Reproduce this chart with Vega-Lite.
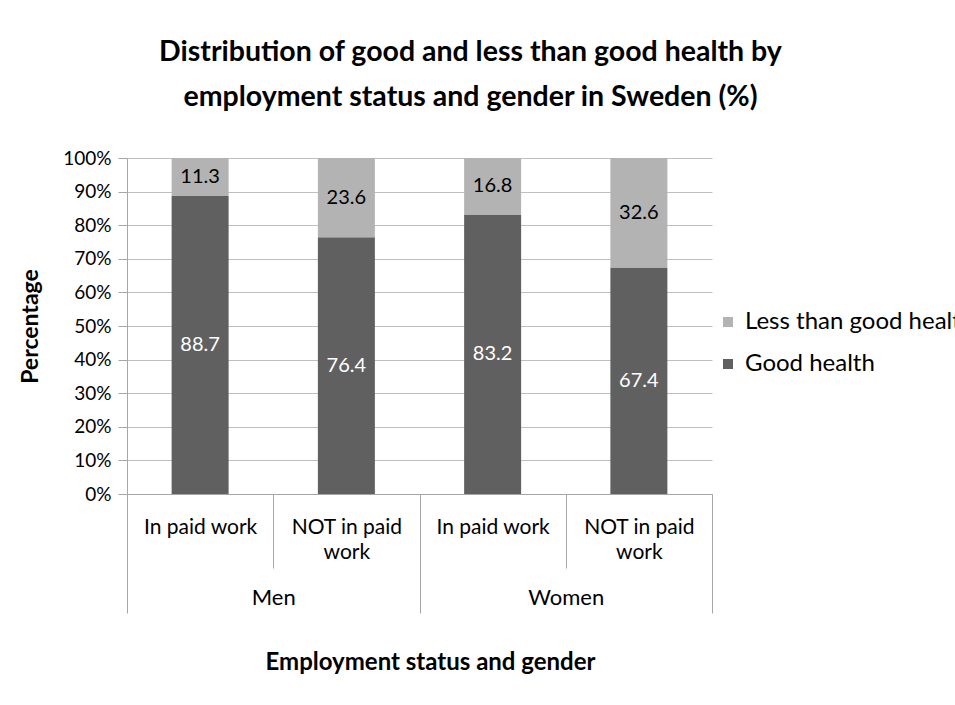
{
  "$schema": "https://vega.github.io/schema/vega-lite/v6.json",
  "width": 585,
  "height": 336,
  "autosize": {"type": "none"},
  "padding": {"left": 127, "top": 158, "right": 243, "bottom": 211},
  "background": "white",
  "config": {"font": "Lato", "view": {"stroke": null}},
  "title": {
    "text": ["Distribution of good and less than good health by", "employment status and gender in Sweden (%)"],
    "fontSize": 28.5,
    "fontWeight": "bold",
    "color": "black",
    "anchor": "middle",
    "frame": "group",
    "dx": 51,
    "offset": 38,
    "lineHeight": 45
  },
  "data": {
    "values": [
      {"gender": "Men", "status": "In paid work", "cat": "Men|In paid work", "health": "Good health", "value": 88.7},
      {"gender": "Men", "status": "In paid work", "cat": "Men|In paid work", "health": "Less than good health", "value": 11.3},
      {"gender": "Men", "status": "NOT in paid work", "cat": "Men|NOT in paid work", "health": "Good health", "value": 76.4},
      {"gender": "Men", "status": "NOT in paid work", "cat": "Men|NOT in paid work", "health": "Less than good health", "value": 23.6},
      {"gender": "Women", "status": "In paid work", "cat": "Women|In paid work", "health": "Good health", "value": 83.2},
      {"gender": "Women", "status": "In paid work", "cat": "Women|In paid work", "health": "Less than good health", "value": 16.8},
      {"gender": "Women", "status": "NOT in paid work", "cat": "Women|NOT in paid work", "health": "Good health", "value": 67.4},
      {"gender": "Women", "status": "NOT in paid work", "cat": "Women|NOT in paid work", "health": "Less than good health", "value": 32.6}
    ]
  },
  "layer": [
    {
      "transform": [
        {"stack": "value", "groupby": ["cat"], "sort": [{"field": "health", "order": "ascending"}], "as": ["v0", "v1"]},
        {"calculate": "(datum.v0 + datum.v1) / 2", "as": "mid"}
      ],
      "layer": [
        {
          "mark": {"type": "bar", "width": 57},
          "encoding": {
            "y": {
              "field": "v0",
              "type": "quantitative",
              "title": "Percentage",
              "scale": {"domain": [0, 100], "nice": false},
              "axis": {
                "values": [0, 10, 20, 30, 40, 50, 60, 70, 80, 90, 100],
                "tickCount": 12,
                "labelOverlap": false,
                "labelExpr": "datum.value + '%'",
                "grid": true,
                "gridColor": "#bfbfbf",
                "domainColor": "#a6a6a6",
                "tickColor": "#a6a6a6",
                "tickSize": 9,
                "labelFontSize": 19,
                "labelPadding": 7,
                "labelColor": "black",
                "titleFontSize": 23,
                "titleFontWeight": "bold",
                "titleColor": "black",
                "titlePadding": 20
              }
            },
            "y2": {"field": "v1"},
            "color": {
              "field": "health",
              "type": "nominal",
              "scale": {"domain": ["Less than good health", "Good health"], "range": ["#b3b3b3", "#606060"]},
              "legend": {
                "title": null,
                "orient": "none",
                "legendX": 589,
                "legendY": 152,
                "symbolType": "square",
                "symbolSize": 100,
                "symbolStrokeWidth": 0,
                "labelFontSize": 24,
                "labelColor": "black",
                "labelOffset": 5,
                "labelLimit": 400,
                "rowPadding": 18,
                "padding": 0
              }
            }
          }
        },
        {
          "mark": {"type": "text", "fontSize": 20, "baseline": "middle"},
          "encoding": {
            "y": {"field": "mid", "type": "quantitative"},
            "text": {"field": "value", "type": "quantitative", "format": ".1f"},
            "color": {"condition": {"test": "datum.health === 'Good health'", "value": "white"}, "value": "black"}
          }
        }
      ],
      "encoding": {
        "x": {
          "field": "cat",
          "type": "nominal",
          "title": null,
          "sort": ["Men|In paid work", "Men|NOT in paid work", "Women|In paid work", "Women|NOT in paid work"],
          "scale": {"paddingInner": 0, "paddingOuter": 0},
          "axis": {
            "labelExpr": "split(datum.label, '|')[1] == 'NOT in paid work' ? ['NOT in paid', 'work'] : split(datum.label, '|')[1]",
            "tickBand": "extent",
            "tickSize": 74,
            "tickColor": "#a6a6a6",
            "domainColor": "#a6a6a6",
            "labelFontSize": 21,
            "labelColor": "black",
            "labelPadding": -52,
            "labelLineHeight": 25,
            "labelAngle": 0,
            "labelOverlap": false,
            "grid": false
          }
        }
      }
    },
    {
      "mark": {"type": "rule", "opacity": 0},
      "encoding": {
        "x": {
          "field": "gender",
          "type": "nominal",
          "title": "Employment status and gender",
          "scale": {"paddingInner": 0, "paddingOuter": 0},
          "axis": {
            "orient": "bottom",
            "tickBand": "extent",
            "tickSize": 119,
            "tickColor": "#a6a6a6",
            "domain": false,
            "labelPadding": -26,
            "labelFontSize": 22,
            "labelAngle": 0,
            "labelColor": "black",
            "titleFontSize": 24,
            "titleFontWeight": "bold",
            "titleColor": "black",
            "titlePadding": 37,
            "titleX": 303,
            "grid": false
          }
        }
      }
    }
  ],
  "resolve": {"scale": {"x": "independent"}}
}
